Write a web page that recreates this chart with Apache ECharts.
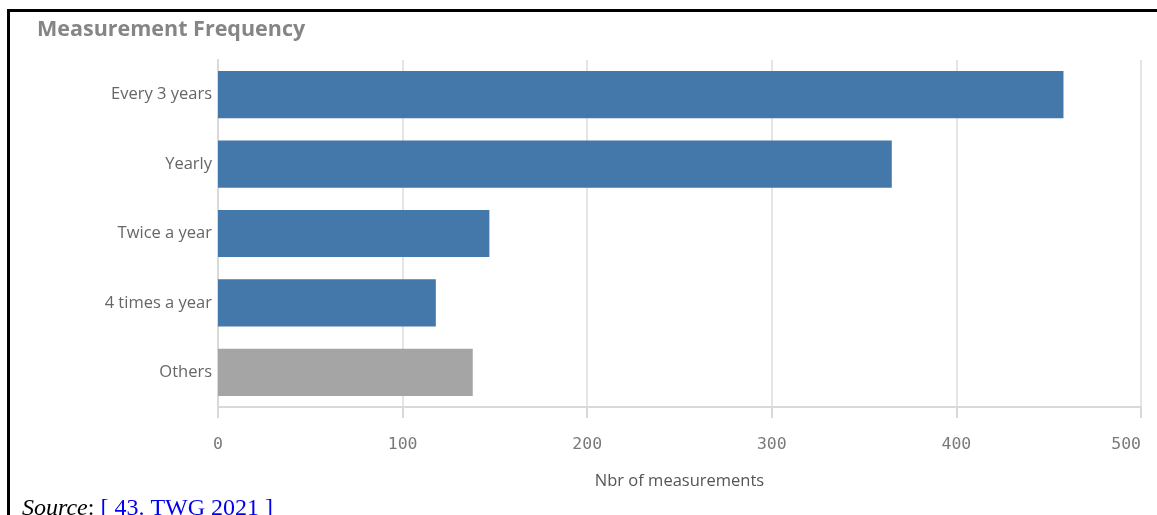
<!DOCTYPE html>
<html>
<head>
<meta charset="utf-8">
<script src="https://cdn.jsdelivr.net/npm/echarts@6/dist/echarts.min.js"></script>
<style>
html,body{margin:0;padding:0;background:#fff;}
#chart{width:1157px;height:515px;}
</style>
</head>
<body>
<div id="chart"></div>
<script>
const categories = ["Every 3 years", "Yearly", "Twice a year", "4 times a year", "Others"];
const values = [458, 365, 147, 118, 138];
const barColors = ["#4477aa", "#4477aa", "#4477aa", "#4477aa", "#a5a5a5"];
const xTicks = [0, 100, 200, 300, 400, 500];

const chart = echarts.init(document.getElementById('chart'), null, {renderer: 'canvas'});
chart.setOption({
  animation: false,
  title: {
    text: 'Measurement Frequency',
    left: 32, top: 14,
    textStyle: {fontFamily: 'Open Sans', fontWeight: 'bold', fontSize: 21.5, color: '#858585'}
  },
  grid: {left: 218, right: 16, top: 60, bottom: 108, containLabel: false},
  xAxis: {
    type: 'value', min: xTicks[0], max: xTicks[xTicks.length - 1], interval: 100,
    name: 'Nbr of measurements', nameLocation: 'middle', nameGap: 66,
    nameTextStyle: {fontFamily: 'Open Sans', fontSize: 16.5, color: '#555'},
    axisLine: {show: true, lineStyle: {color: '#d9d9d9', width: 2}},
    axisTick: {show: true, length: 11, lineStyle: {color: '#d9d9d9', width: 2}},
    axisLabel: {margin: 29, fontFamily: 'DejaVu Sans Mono', fontSize: 16.5, color: '#7a7a7a', alignMaxLabel: 'right'},
    splitLine: {show: true, lineStyle: {color: '#dcdcdc', width: 1.5}}
  },
  yAxis: {
    type: 'category', data: categories, inverse: true,
    axisLine: {show: true, lineStyle: {color: '#d9d9d9', width: 2}},
    axisTick: {show: false},
    axisLabel: {margin: 6, fontFamily: 'Open Sans', fontSize: 16.5, color: '#666'}
  },
  series: [{
    type: 'bar',
    data: values.map((v, i) => ({value: v, itemStyle: {color: barColors[i]}})),
    barCategoryGap: '32%'
  }],
  graphic: [
    {type: 'rect', shape: {x: 7, y: 9, width: 1150, height: 3}, style: {fill: '#000'}},
    {type: 'rect', shape: {x: 7, y: 9, width: 3, height: 506}, style: {fill: '#000'}},
    {type: 'text', left: 22, top: 497, style: {
      rich: {
        a: {fontFamily: 'Liberation Serif', fontStyle: 'italic', fontSize: 24, fill: '#000'},
        b: {fontFamily: 'Liberation Serif', fontSize: 24, fill: '#000'},
        c: {fontFamily: 'Liberation Serif', fontSize: 24, fill: '#0000ee'}
      },
      text: '{a|Source}{b|: }{c|[ 43. TWG 2021 ]}'
    }}
  ]
});
</script>
</body>
</html>
